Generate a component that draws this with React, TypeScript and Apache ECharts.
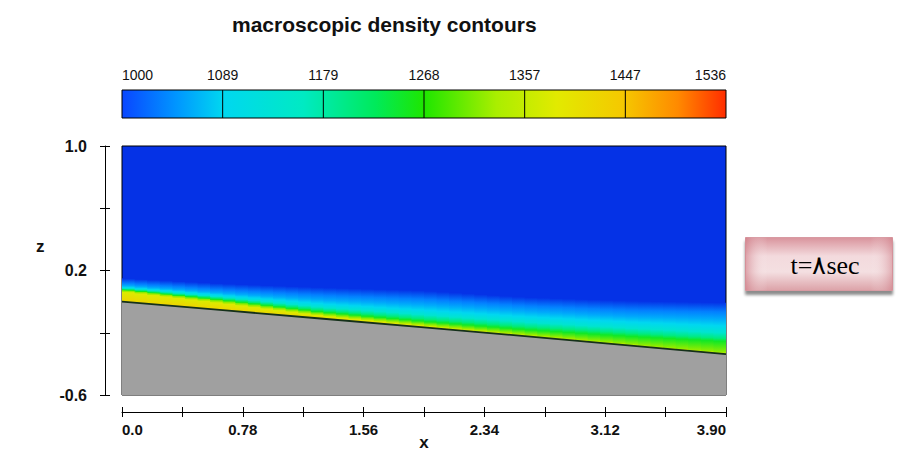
import { useEffect, useRef } from "react";
import * as echarts from "echarts";

const TITLE = "macroscopic density contours";
const BOX_TEXT = "t=۸sec";
const Z_NAME = "z";
const COLORBAR_LABELS = ["1000", "1089", "1179", "1268", "1357", "1447", "1536"];
const DENSITY_MIN = 1000;
const DENSITY_MAX = 1536;

const X_TICKS = [0, 0.39, 0.78, 1.17, 1.56, 1.95, 2.34, 2.73, 3.12, 3.51, 3.9];
const X_LABEL_VALUES = [0, 0.78, 1.56, 2.34, 3.12, 3.9];
const X_LABELS = ["0.0", "0.78", "1.56", "2.34", "3.12", "3.90"];
const Z_TICKS = [-0.6, -0.2, 0.2, 0.6, 1.0];
const Z_LABEL_VALUES = [-0.6, 0.2, 1.0];
const Z_LABELS = ["-0.6", "0.2", "1.0"];

// stations along x where the layer was read
const STATIONS = [0, 0.65, 1.3, 1.95, 2.6, 3.25, 3.9];
// bed elevation z at each station
const BED_Z = [0.0, -0.055, -0.11, -0.165, -0.222, -0.28, -0.337];
// density isolines and their height above the bed at each station
const ISO_LEVELS = [1012, 1035, 1060, 1090, 1140, 1200, 1250, 1320, 1380];
const ISO_1012 = [0.15, 0.17, 0.2, 0.235, 0.25, 0.285, 0.33];
const ISO_1035 = [0.12, 0.13, 0.15, 0.18, 0.195, 0.225, 0.27];
const ISO_1060 = [0.105, 0.11, 0.12, 0.145, 0.16, 0.185, 0.225];
const ISO_1090 = [0.095, 0.095, 0.095, 0.11, 0.125, 0.15, 0.18];
const ISO_1140 = [0.088, 0.083, 0.072, 0.08, 0.09, 0.11, 0.135];
const ISO_1200 = [0.083, 0.074, 0.055, 0.055, 0.062, 0.08, 0.1];
const ISO_1250 = [0.078, 0.065, 0.042, 0.038, 0.042, 0.058, 0.08];
const ISO_1320 = [0.072, 0.055, 0.028, 0.02, 0.015, 0.012, 0.01];
const ISO_1380 = [0.062, 0.042, 0.016, 0.006, 0.0, 0.0, 0.0];
const ISO_HEIGHTS = [ISO_1012, ISO_1035, ISO_1060, ISO_1090, ISO_1140, ISO_1200, ISO_1250, ISO_1320, ISO_1380];
const BED_DENSITY = 1425;

const Z_MIN = -0.6;
const Z_MAX = 1.0;
const X_MIN = 0;
const X_MAX = 3.9;
const SUB = 8;

const PLOT_BG = "#0532e6";
const CMAP: [number, string][] = [
  [0, "#0a46ff"],
  [0.09, "#0096ff"],
  [0.167, "#00d7f0"],
  [0.3, "#00eac3"],
  [0.42, "#00ea5a"],
  [0.5, "#1ee600"],
  [0.62, "#aaee00"],
  [0.72, "#e2ea00"],
  [0.83, "#f5c800"],
  [0.92, "#ff8a00"],
  [1, "#ff2d00"],
];

function hexToRgb(h: string) {
  const n = parseInt(h.slice(1), 16);
  return [(n >> 16) & 255, (n >> 8) & 255, n & 255];
}

function colorAt(d: number) {
  const t = Math.max(0, Math.min(1, (d - DENSITY_MIN) / (DENSITY_MAX - DENSITY_MIN)));
  for (let k = 1; k < CMAP.length; k++) {
    if (t <= CMAP[k][0]) {
      const [t0, c0] = CMAP[k - 1];
      const [t1, c1] = CMAP[k];
      const f = (t - t0) / (t1 - t0);
      const a = hexToRgb(c0);
      const b = hexToRgb(c1);
      const c = a.map((v, j) => Math.round(v + (b[j] - v) * f));
      return `rgb(${c[0]},${c[1]},${c[2]})`;
    }
  }
  return CMAP[CMAP.length - 1][1];
}

const lerp = (a: number, b: number, f: number) => a + (b - a) * f;
const FONT = "Liberation Sans";

export default function App() {
  const ref = useRef<HTMLDivElement>(null);
  useEffect(() => {
    const chart = echarts.init(ref.current!, null, { renderer: "svg" });
    const nIso = ISO_LEVELS.length;
    const option: any = {
      animation: false,
      backgroundColor: "#ffffff",
      textStyle: { fontFamily: FONT },
      title: {
        text: TITLE,
        left: 227,
        top: 9,
        textStyle: { fontSize: 21, fontWeight: "bold", color: "#111", fontFamily: FONT },
      },
      grid: [
        {
          left: 122,
          top: 146,
          width: 604,
          height: 249,
          outerBoundsMode: "none",
          containLabel: false,
          show: true,
          backgroundColor: PLOT_BG,
          borderColor: "#000",
          borderWidth: 1,
          z: 0,
        },
        {
          left: 122,
          top: 90,
          width: 604,
          height: 28,
          outerBoundsMode: "none",
          containLabel: false,
          show: false,
        },
      ],
      xAxis: [
        {
          gridIndex: 0,
          type: "value",
          position: "bottom",
          min: X_MIN,
          max: X_MAX,
          offset: 17,
          name: "x",
          nameLocation: "middle",
          nameGap: 22,
          nameMoveOverlap: false,
          nameTextStyle: { fontSize: 17, fontWeight: "bold", color: "#111", fontFamily: FONT },
          axisLine: { show: true, onZero: false, lineStyle: { color: "#000", width: 1 } },
          axisTick: { show: true, length: 5, customValues: X_TICKS, lineStyle: { color: "#000" } },
          axisLabel: {
            customValues: X_LABEL_VALUES,
            formatter: (v: number) => {
              const k = X_LABEL_VALUES.findIndex((u) => Math.abs(u - v) < 1e-6);
              return k >= 0 ? X_LABELS[k] : "";
            },
            alignMinLabel: "left",
            alignMaxLabel: "right",
            margin: 10,
            fontSize: 15,
            fontWeight: "bold",
            color: "#111",
            fontFamily: FONT,
          },
          splitLine: { show: false },
        },
        {
          gridIndex: 0,
          type: "value",
          position: "bottom",
          min: X_MIN,
          max: X_MAX,
          offset: 17,
          axisLine: { show: false, onZero: false },
          axisTick: { show: true, inside: true, length: 5, customValues: X_TICKS, lineStyle: { color: "#000" } },
          axisLabel: { show: false },
          splitLine: { show: false },
        },
        {
          gridIndex: 1,
          type: "value",
          position: "top",
          min: 0,
          max: COLORBAR_LABELS.length - 1,
          interval: 1,
          axisLine: { show: false, onZero: false },
          axisTick: { show: false },
          splitLine: { show: false },
          axisLabel: {
            formatter: (v: number) => COLORBAR_LABELS[Math.round(v)] ?? "",
            alignMinLabel: "left",
            alignMaxLabel: "right",
            margin: 8,
            fontSize: 14,
            color: "#111",
            fontFamily: FONT,
          },
        },
      ],
      yAxis: [
        {
          gridIndex: 0,
          type: "value",
          position: "left",
          min: Z_MIN,
          max: Z_MAX,
          offset: 17,
          axisLine: { show: true, onZero: false, lineStyle: { color: "#000", width: 1 } },
          axisTick: { show: true, length: 5, customValues: Z_TICKS, lineStyle: { color: "#000" } },
          axisLabel: {
            customValues: Z_LABEL_VALUES,
            formatter: (v: number) => {
              const k = Z_LABEL_VALUES.findIndex((u) => Math.abs(u - v) < 1e-6);
              return k >= 0 ? Z_LABELS[k] : "";
            },
            margin: 18,
            fontSize: 16,
            fontWeight: "bold",
            color: "#111",
            fontFamily: FONT,
          },
          splitLine: { show: false },
        },
        {
          gridIndex: 0,
          type: "value",
          position: "left",
          min: Z_MIN,
          max: Z_MAX,
          offset: 17,
          axisLine: { show: false, onZero: false },
          axisTick: { show: true, inside: true, length: 5, customValues: Z_TICKS, lineStyle: { color: "#000" } },
          axisLabel: { show: false },
          splitLine: { show: false },
        },
        {
          gridIndex: 1,
          type: "value",
          min: 0,
          max: 1,
          show: false,
        },
      ],
      series: [
        {
          type: "custom",
          name: "density layers",
          coordinateSystem: "cartesian2d",
          xAxisIndex: 0,
          yAxisIndex: 0,
          silent: true,
          data: ISO_LEVELS.map((lvl, i) => [i, lvl]),
          renderItem: (params: any, api: any) => {
            const i = params.dataIndex;
            const hTop = ISO_HEIGHTS[i];
            const hNext = i + 1 < nIso ? ISO_HEIGHTS[i + 1] : null;
            const cTop = i === 0 ? PLOT_BG : colorAt(ISO_LEVELS[i]);
            const cNext = i + 1 < nIso ? colorAt(ISO_LEVELS[i + 1]) : colorAt(BED_DENSITY);
            const children: any[] = [];
            for (let s = 0; s < STATIONS.length - 1; s++) {
              for (let j = 0; j < SUB; j++) {
                const fa = j / SUB;
                const fb = (j + 1) / SUB;
                const fm = (j + 0.5) / SUB;
                const xa = lerp(STATIONS[s], STATIONS[s + 1], fa);
                const xb = lerp(STATIONS[s], STATIONS[s + 1], fb);
                const xm = lerp(STATIONS[s], STATIONS[s + 1], fm);
                const bedA = lerp(BED_Z[s], BED_Z[s + 1], fa);
                const bedB = lerp(BED_Z[s], BED_Z[s + 1], fb);
                const bedM = lerp(BED_Z[s], BED_Z[s + 1], fm);
                const tA = lerp(hTop[s], hTop[s + 1], fa);
                const tB = lerp(hTop[s], hTop[s + 1], fb);
                const tM = lerp(hTop[s], hTop[s + 1], fm);
                if (tA <= 0 && tB <= 0) continue;
                const nM = hNext ? lerp(hNext[s], hNext[s + 1], fm) : 0;
                const last = s === STATIONS.length - 2 && j === SUB - 1;
                const ext = last ? 0 : 0.7;
                const pTA = api.coord([xa, bedA + tA]);
                const pTB = api.coord([xb, bedB + tB]);
                const pBB = api.coord([xb, bedB - 0.02]);
                const pBA = api.coord([xa, bedA - 0.02]);
                const yTop = api.coord([xm, bedM + tM]);
                const yNext = api.coord([xm, bedM + nM]);
                let fill: any = cNext;
                if (yNext[1] - yTop[1] > 0.4) {
                  fill = new echarts.graphic.LinearGradient(
                    yTop[0], yTop[1], yNext[0], yNext[1],
                    [
                      { offset: 0, color: cTop },
                      { offset: 1, color: cNext },
                    ],
                    true
                  );
                }
                children.push({
                  type: "polygon",
                  shape: { points: [pTA, [pTB[0] + ext, pTB[1]], [pBB[0] + ext, pBB[1]], pBA] },
                  style: { fill, stroke: null },
                });
              }
            }
            return { type: "group", children };
          },
          z: 2,
        },
        {
          type: "custom",
          name: "bed",
          coordinateSystem: "cartesian2d",
          xAxisIndex: 0,
          yAxisIndex: 0,
          silent: true,
          data: [[0, 0]],
          renderItem: (params: any, api: any) => {
            const bed = STATIONS.map((x, s) => api.coord([x, BED_Z[s]]));
            const poly = bed.concat([api.coord([X_MAX, Z_MIN]), api.coord([X_MIN, Z_MIN])]);
            return {
              type: "group",
              children: [
                { type: "polygon", shape: { points: poly }, style: { fill: "#a0a0a0", stroke: null } },
                { type: "polyline", shape: { points: bed }, style: { stroke: "#14301a", lineWidth: 1.8, fill: null } },
              ],
            };
          },
          z: 3,
        },
        {
          type: "custom",
          name: "colorbar",
          coordinateSystem: "cartesian2d",
          xAxisIndex: 2,
          yAxisIndex: 2,
          silent: true,
          data: [[0, 0]],
          renderItem: (params: any, api: any) => {
            const n = COLORBAR_LABELS.length - 1;
            const p0 = api.coord([0, 1]);
            const p1 = api.coord([n, 0]);
            const children: any[] = [
              {
                type: "rect",
                shape: { x: p0[0], y: p0[1], width: p1[0] - p0[0], height: p1[1] - p0[1] },
                style: {
                  fill: new echarts.graphic.LinearGradient(
                    0, 0, 1, 0,
                    CMAP.map(([o, c]) => ({ offset: o, color: c }))
                  ),
                  stroke: "#000",
                  lineWidth: 1,
                },
              },
            ];
            for (let k = 1; k < n; k++) {
              const a = api.coord([k, 1]);
              const b = api.coord([k, 0]);
              children.push({
                type: "line",
                shape: { x1: a[0], y1: a[1], x2: b[0], y2: b[1] },
                style: { stroke: "#000", lineWidth: 1 },
              });
            }
            return { type: "group", children };
          },
          z: 2,
        },
      ],
      graphic: [
        {
          type: "text",
          left: 36,
          top: 238,
          style: { text: Z_NAME, fontSize: 17, fontWeight: "bold", fill: "#111", fontFamily: FONT },
        },
        {
          type: "group",
          left: 745,
          top: 237,
          children: [
            {
              type: "rect",
              shape: { x: 0, y: 0, width: 147, height: 53 },
              style: {
                fill: new echarts.graphic.LinearGradient(0, 0, 0, 1, [
                  { offset: 0, color: "#d9939c" },
                  { offset: 0.35, color: "#f3dadd" },
                  { offset: 0.65, color: "#f4dfe1" },
                  { offset: 1, color: "#dca2a8" },
                ]),
                stroke: "#d89aa2",
                lineWidth: 1,
                shadowColor: "rgba(0,0,0,0.45)",
                shadowBlur: 3,
                shadowOffsetX: 0,
                shadowOffsetY: 4,
              },
            },
            {
              type: "rect",
              shape: { x: 0, y: 0, width: 147, height: 53 },
              style: {
                fill: new echarts.graphic.LinearGradient(0, 0, 1, 0, [
                  { offset: 0, color: "rgba(205,120,130,0.6)" },
                  { offset: 0.15, color: "rgba(255,255,255,0)" },
                  { offset: 0.85, color: "rgba(255,255,255,0)" },
                  { offset: 1, color: "rgba(205,120,130,0.5)" },
                ]),
              },
            },
            {
              type: "text",
              style: {
                text: BOX_TEXT,
                x: 45,
                y: 28,
                verticalAlign: "middle",
                fontSize: 26,
                fontFamily: "Liberation Serif",
                fill: "#000",
              },
            },
          ],
        },
      ],
    };
    chart.setOption(option);
    return () => chart.dispose();
  }, []);
  return <div ref={ref} style={{ position: "fixed", left: 0, top: 0, width: 898, height: 454 }} />;
}
